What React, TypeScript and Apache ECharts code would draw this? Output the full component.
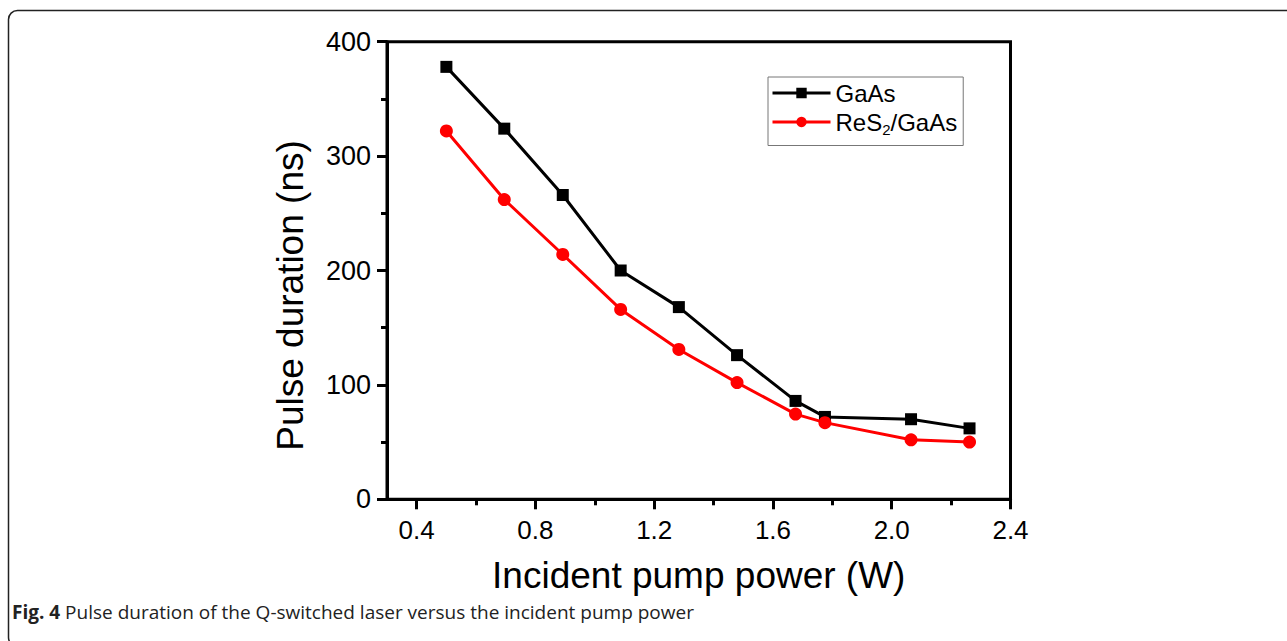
import React, { useEffect, useRef } from "react";
import * as echarts from "echarts";

const pumpPower = [0.5, 0.695, 0.892, 1.087, 1.283, 1.479, 1.676, 1.775, 2.065, 2.262];
const gaasDuration = [378, 324, 266, 200, 168, 126, 86, 72, 70, 62];
const res2Duration = [322, 262, 214, 166, 131, 102, 74.5, 67, 52, 50];
const xMajorTicks = [0.4, 0.8, 1.2, 1.6, 2.0, 2.4];
const xMinorTicks = [0.6, 1.0, 1.4, 1.8, 2.2];
const seriesNames = ["GaAs", "ReS2/GaAs"];
const caption = "Pulse duration of the Q-switched laser versus the incident pump power";

const FONT = "'Liberation Sans', Arial, Helvetica, sans-serif";
const CAPFONT = "'Open Sans', 'Noto Sans', sans-serif";

export default function App() {
  const ref = useRef<HTMLDivElement>(null);
  useEffect(() => {
    if (!ref.current) return;
    const chart = echarts.init(ref.current, null, { renderer: "svg" });
    const pair = (ys: number[]) => pumpPower.map((x, i) => [x, ys[i]]);
    chart.setOption({
      animation: false,
      backgroundColor: "#ffffff",
      grid: {
        left: 387,
        right: 276.5,
        top: 41.7,
        bottom: 141.7,
        show: true,
        borderColor: "#000",
        borderWidth: 3,
        containLabel: false,
      },
      xAxis: [
        {
          type: "value",
          min: 0.3,
          max: 2.4,
          position: "bottom",
          splitLine: { show: false },
          axisLine: { show: true, lineStyle: { color: "#000", width: 3 } },
          axisTick: {
            show: true,
            inside: false,
            length: 10,
            lineStyle: { color: "#000", width: 3 },
            customValues: xMajorTicks,
          },
          axisLabel: {
            show: true,
            margin: 18,
            color: "#000",
            fontSize: 26,
            fontFamily: FONT,
            customValues: xMajorTicks,
            formatter: (v: number) => v.toFixed(1),
          },
          name: "Incident pump power (W)",
          nameLocation: "middle",
          nameGap: 58,
          nameTextStyle: { fontSize: 37, color: "#000", fontFamily: FONT },
        },
        {
          type: "value",
          min: 0.3,
          max: 2.4,
          position: "bottom",
          splitLine: { show: false },
          axisLine: { show: false },
          axisTick: {
            show: true,
            inside: false,
            length: 6,
            lineStyle: { color: "#000", width: 3 },
            customValues: xMinorTicks,
          },
          axisLabel: { show: false },
        },
      ],
      yAxis: {
        type: "value",
        min: 0,
        max: 400,
        interval: 100,
        splitLine: { show: false },
        axisLine: { show: true, lineStyle: { color: "#000", width: 3 } },
        axisTick: { show: true, length: 10, lineStyle: { color: "#000", width: 3 } },
        minorTick: { show: true, splitNumber: 2, length: 6, lineStyle: { color: "#000", width: 3 } },
        axisLabel: { margin: 16, color: "#000", fontSize: 27, fontFamily: FONT },
        name: "Pulse duration (ns)",
        nameLocation: "middle",
        nameGap: 78,
        nameTextStyle: { fontSize: 37, color: "#000", fontFamily: FONT, padding: [0, 50, 0, 0] },
      },
      legend: {
        orient: "vertical",
        left: 768,
        top: 77,
        backgroundColor: "#fff",
        borderColor: "#777",
        borderWidth: 1,
        borderRadius: 0,
        padding: [4, 6, 9, 3],
        itemWidth: 58,
        itemHeight: 13,
        itemGap: 5,
        data: seriesNames,
        lineStyle: { width: 3 },
        formatter: (name: string) =>
          name === "ReS2/GaAs" ? "{n|ReS}{s|2}{n|/GaAs}" : "{n|" + name + "}",
        textStyle: {
          color: "#000",
          fontFamily: FONT,
          fontSize: 24,
          rich: {
            n: { fontSize: 24, fontFamily: FONT, color: "#000", lineHeight: 26 },
            s: { fontSize: 15, fontFamily: FONT, color: "#000", padding: [14, 0, 0, 0] },
          },
        },
      },
      series: [
        {
          name: seriesNames[0],
          type: "line",
          data: pair(gaasDuration),
          symbol: "rect",
          symbolSize: 12,
          lineStyle: { color: "#000", width: 3 },
          itemStyle: { color: "#000" },
          z: 3,
        },
        {
          name: seriesNames[1],
          type: "line",
          data: pair(res2Duration),
          symbol: "circle",
          symbolSize: 13,
          lineStyle: { color: "#ff0000", width: 3 },
          itemStyle: { color: "#ff0000" },
          z: 4,
        },
      ],
      graphic: [
        {
          type: "rect",
          shape: { x: 8.5, y: 10.5, width: 1400, height: 636, r: 9 },
          style: { fill: "none", stroke: "#222", lineWidth: 1.5 },
          silent: true,
        },
        {
          type: "text",
          left: 12,
          top: 602,
          style: {
            text: "{b|Fig. 4} " + caption,
            fontFamily: CAPFONT,
            fontSize: 19,
            fill: "#222",
            rich: {
              b: { fontFamily: CAPFONT, fontSize: 19, fontWeight: "bold", fill: "#222" },
            },
          },
        },
      ],
    });
    return () => chart.dispose();
  }, []);
  return (
    <div
      ref={ref}
      style={{ position: "fixed", left: 0, top: 0, width: 1287, height: 641 }}
    />
  );
}
